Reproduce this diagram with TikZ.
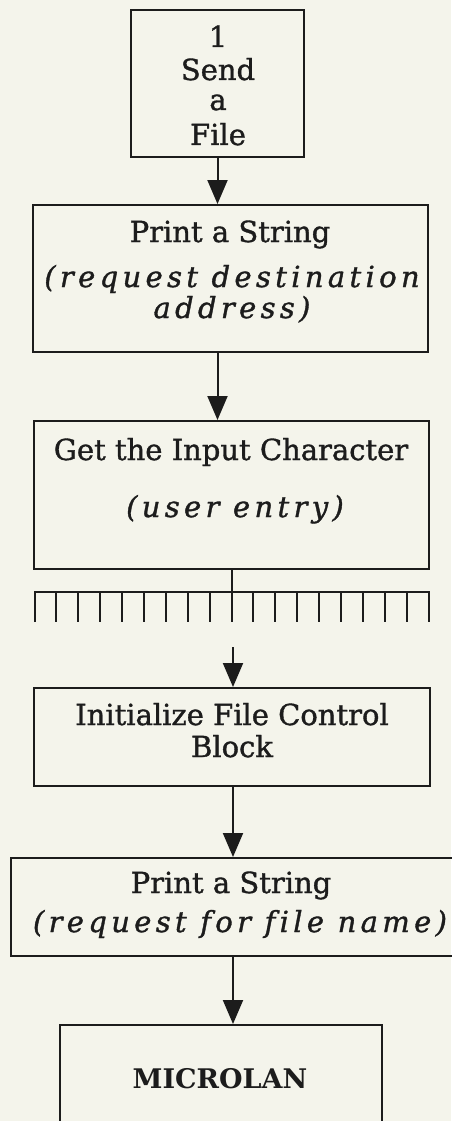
\documentclass[tikz,border=0pt]{standalone}
\usepackage{fontspec}
\setmainfont[FakeBold=1.2]{DejaVu Serif}
\newfontfamily\spacedserif[LetterSpace=15,FakeBold=1.2,Ligatures={NoCommon}]{DejaVu Serif}
\newfontfamily\heavyserif{DejaVu Serif}
\usetikzlibrary{arrows.meta}
\definecolor{paper}{RGB}{244,244,235}
\definecolor{ink}{RGB}{28,28,28}
\begin{document}
\begin{tikzpicture}[x=1pt,y=-1pt,
  box/.style={draw=ink, line width=2pt, inner sep=0pt},
  txt/.style={anchor=base, inner sep=0pt, text=ink, font=\fontsize{29}{34}\selectfont},
  note/.style={anchor=base, inner sep=0pt, text=ink, font=\spacedserif\itshape\fontsize{29}{34}\selectfont},
  wire/.style={draw=ink, line width=2pt},
  flow/.style={wire, -{Triangle[width=20pt,length=24pt]}}]
\fill[paper] (0,0) rectangle (451,1121);
\useasboundingbox (0,0) rectangle (451,1121);

% boxes
\node[box, minimum width=173pt, minimum height=147pt] (b1) at (217.5,83.5) {};
\node[box, minimum width=395pt, minimum height=147pt] (b2) at (230.5,278.5) {};
\node[box, minimum width=395pt, minimum height=148pt] (b3) at (231.5,495) {};
\node[box, minimum width=396pt, minimum height=98pt] (b4) at (232,737) {};
\node[box, minimum width=459pt, minimum height=98pt] (b5) at (240.5,907) {};
\node[box, minimum width=322pt, minimum height=112pt] (b6) at (221,1081) {};

% texts
\node[txt] (t1a) at (218,47) {1};
\node[txt] (t1b) at (218,80) {Send};
\node[txt] (t1c) at (218,110) {a};
\node[txt] (t1d) at (218,145) {File};
\node[txt] (t2a) at (230,242) {Print a String};
\node[note] (t2b) at (232,287) {(request destination};
\node[note] (t2c) at (232,318) {address)};
\node[txt] (t3a) at (231,460) {Get the Input Character};
\node[note] (t3b) at (235,517) {(user entry)};
\node[txt] (t4a) at (232,725) {Initialize File Control};
\node[txt] (t4b) at (232,757) {Block};
\node[txt] (t5a) at (231,893) {Print a String};
\node[note] (t5b) at (240,932) {(request for file name)};
\node[txt, font=\heavyserif\bfseries\fontsize{27}{32}\selectfont] (t6) at (220,1088) {MICROLAN};

% comb
\coordinate (comb) at (b3.south |- 0,592);
\draw[wire] (34.5,622) -- (34.5,592) -- (428.5,592) -- (428.5,622);
\foreach \i in {1,...,17} {\draw[wire] (34.5+\i*21.889,592) -- ++(0,30);}
\coordinate (a4) at (233,647);

% connectors
\draw[flow] (b1.south) -- (b1.south |- b2.north);
\draw[flow] (b2.south -| b1.south) -- (b3.north -| b1.south);
\draw[wire] (b3.south) -- (comb);
\draw[flow] (a4) -- (a4 |- b4.north);
\draw[flow] (b4.south -| a4) -- (b5.north -| a4);
\draw[flow] (b5.south -| a4) -- (b6.north -| a4);
\end{tikzpicture}
\end{document}
